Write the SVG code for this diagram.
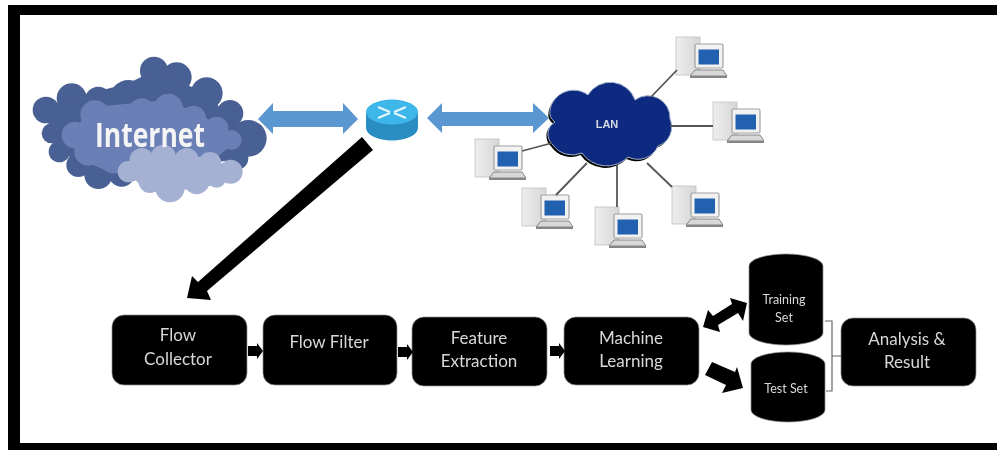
<svg xmlns="http://www.w3.org/2000/svg" xmlns:xlink="http://www.w3.org/1999/xlink" width="997" height="450" viewBox="0 0 997 450">
<style>
.box{fill:#000;stroke:#8a8a8a;stroke-width:.7}
.lbl{font-family:Lato,"Open Sans",sans-serif;font-size:17px;fill:#d8d8d8;text-anchor:middle}
.sm{font-size:12.5px}
.blue{fill:#5a96cf}
.blk{fill:#000}
.wire{stroke:#555;stroke-width:1.8;fill:none}
.brk{stroke:#666;stroke-width:1.2;fill:none}
</style>
<defs>
<filter id="soft" x="-2%" y="-2%" width="104%" height="104%"><feGaussianBlur stdDeviation="0.55"/></filter>
<linearGradient id="tower" x1="0" x2="1" y1="0" y2="0"><stop offset="0" stop-color="#eeeeee"/><stop offset="1" stop-color="#d6d6d6"/></linearGradient>
<g id="pc">
<rect x="0" y="0" width="24" height="38" fill="url(#tower)" stroke="#c0c0c0" stroke-width=".8"/>
<rect x="19" y="7" width="28" height="24" rx="1.5" fill="#f2f2f2" stroke="#a0a0a0" stroke-width="1.2"/>
<rect x="22.500" y="12.500" width="20.500" height="15" fill="#2060b0"/>
<path d="M19 33 L47 33 L51 39 L14 39 Z" fill="#d8d8d8" stroke="#858585" stroke-width="1"/>
<rect x="14" y="39" width="37" height="2" fill="#858585"/>
</g>
</defs>
<rect width="997" height="450" fill="#fff"/>
<g filter="url(#soft)">
<g id="frame" fill="#000">
<rect x="8" y="5" width="989" height="10"/>
<rect x="8" y="5" width="12" height="445"/>
<rect x="8" y="443" width="989" height="7"/>
</g>
<g id="internet">
<g transform="scale(.3333)">
<g fill="#4a6094">
<circle cx="138" cy="330" r="40"/><circle cx="215" cy="295" r="45"/><circle cx="295" cy="300" r="40"/><circle cx="385" cy="295" r="55"/><circle cx="462" cy="212" r="42"/><circle cx="530" cy="232" r="45"/><circle cx="620" cy="280" r="48"/><circle cx="690" cy="340" r="40"/><circle cx="745" cy="415" r="55"/><circle cx="710" cy="475" r="35"/><circle cx="155" cy="400" r="30"/><circle cx="178" cy="455" r="32"/><circle cx="235" cy="495" r="36"/><circle cx="295" cy="525" r="42"/><circle cx="365" cy="520" r="40"/>
<path d="M140 330 L215 295 L385 250 L462 212 L620 280 L745 415 L710 475 L365 550 L230 495 L150 400 Z"/>
</g>
<g fill="#6a7fb5">
<circle cx="225" cy="405" r="40"/><circle cx="285" cy="345" r="44"/><circle cx="350" cy="365" r="32"/><circle cx="425" cy="335" r="40"/><circle cx="505" cy="325" r="44"/><circle cx="580" cy="355" r="38"/><circle cx="650" cy="385" r="35"/><circle cx="695" cy="420" r="30"/><circle cx="265" cy="455" r="42"/><circle cx="340" cy="480" r="40"/>
<path d="M205 405 L285 320 L505 300 L650 370 L715 420 L640 480 L340 520 L240 480 Z"/>
</g>
<g fill="#a5b1d3">
<circle cx="385" cy="515" r="32"/><circle cx="425" cy="480" r="36"/><circle cx="490" cy="472" r="38"/><circle cx="560" cy="480" r="36"/><circle cx="630" cy="490" r="34"/><circle cx="692" cy="515" r="36"/><circle cx="510" cy="563" r="44"/><circle cx="590" cy="545" r="38"/><circle cx="450" cy="545" r="34"/><circle cx="650" cy="535" r="28"/>
<path d="M385 515 L425 470 L630 470 L700 515 L650 555 L510 575 L420 555 Z"/>
</g>
</g>
<text x="150" y="147" font-family="'Open Sans',Lato,sans-serif" font-size="34" font-weight="700" fill="#f4f4f4" text-anchor="middle" textLength="110" lengthAdjust="spacingAndGlyphs">Internet</text>
</g>
<g id="router">
<path d="M366 112 V128 A26 12.5 0 0 0 418 128 V112 Z" fill="#2b8dc2"/>
<ellipse cx="392" cy="112" rx="26" ry="12.5" fill="#3db6ea"/>
<path d="M378 107 L390 112 M406 107 L394 112 M378 118 L390 113 M406 118 L394 113" stroke="#e6f6fc" stroke-width="2.2" fill="none"/>
</g>
<g id="lan">
<path d="M550 110 A24 24 0 0 1 588 95 A26 26 0 0 1 635 100 A22 22 0 0 1 670 119 A20 20 0 0 1 658 146 A22 22 0 0 1 628 157 A30 30 0 0 1 582 153 A24 24 0 0 1 553 145 A14 14 0 0 1 555 122 A12 12 0 0 1 550 110 Z" fill="#000" transform="translate(-1.5,2)"/>
<path d="M550 110 A24 24 0 0 1 588 95 A26 26 0 0 1 635 100 A22 22 0 0 1 670 119 A20 20 0 0 1 658 146 A22 22 0 0 1 628 157 A30 30 0 0 1 582 153 A24 24 0 0 1 553 145 A14 14 0 0 1 555 122 A12 12 0 0 1 550 110 Z" fill="#0f2a80" stroke="#9fb0cc" stroke-width="1"/>
<text x="607" y="128" font-family="'Liberation Sans',sans-serif" font-size="11" font-weight="700" fill="#d5d9e6" text-anchor="middle">LAN</text>
</g>
<g id="pc1"><use xlink:href="#pc" href="#pc" x="676" y="37"/></g>
<g id="pc2"><use xlink:href="#pc" href="#pc" x="713" y="102"/></g>
<g id="pc3"><use xlink:href="#pc" href="#pc" x="475" y="139"/></g>
<g id="pc4"><use xlink:href="#pc" href="#pc" x="522" y="188"/></g>
<g id="pc5"><use xlink:href="#pc" href="#pc" x="595" y="207"/></g>
<g id="pc6"><use xlink:href="#pc" href="#pc" x="672" y="186"/></g>
<g id="flow-collector"><rect class="box" x="112" y="315" width="135" height="70" rx="12"/><text class="lbl" x="178" y="341">Flow</text><text class="lbl" x="178" y="365">Collector</text></g>
<g id="flow-filter"><rect class="box" x="263" y="315" width="134" height="70" rx="12"/><text class="lbl" x="329" y="348">Flow Filter</text></g>
<g id="feature-extraction"><rect class="box" x="412" y="317" width="135" height="69" rx="12"/><text class="lbl" x="479" y="344">Feature</text><text class="lbl" x="479" y="367">Extraction</text></g>
<g id="machine-learning"><rect class="box" x="564" y="317" width="135" height="68" rx="12"/><text class="lbl" x="631" y="344">Machine</text><text class="lbl" x="631" y="367">Learning</text></g>
<g id="training-set"><path class="box" d="M749 266 A37 12 0 0 1 823 266 V333 A37 12 0 0 1 749 333 Z"/><text class="lbl sm" x="784" y="304">Training</text><text class="lbl sm" x="784" y="322">Set</text></g>
<g id="test-set"><path class="box" d="M751 364 A37 12 0 0 1 825 364 V410 A37 12 0 0 1 751 410 Z"/><text class="lbl sm" x="786" y="393">Test Set</text></g>
<g id="analysis-result"><rect class="box" x="841" y="318" width="135" height="68" rx="12"/><text class="lbl" x="907" y="345">Analysis &amp;</text><text class="lbl" x="907" y="368">Result</text></g>
<g id="connectors">
<polygon class="blue" points="258,119 273,103 273,111 343,111 343,103 358,119 343,134 343,127 273,127 273,134"/>
<polygon class="blue" points="427,118 442,103 442,112 533,112 533,103 549,118 533,133 533,126 442,126 442,133"/>
<polygon class="blk" points="362,137 373,150 207,291 211,300 187,298 192,276 198,282"/>
<polygon class="blk" points="248,346 257,346 257,343 263,351 257,359 257,356 248,356"/>
<polygon class="blk" points="398,347 407,347 407,344 413,352 407,360 407,357 398,357"/>
<polygon class="blk" points="550,346 559,346 559,343 565,351 559,359 559,356 550,356"/>
<polygon class="blk" points="703,327 708,310 713,316 732,304 730,298 747,303 743,321 738,313 718,325 720,332"/>
<polygon class="blk" points="712,362 735,372 737,367 743,388 722,393 726,385 705,375"/>
<path class="brk" d="M825 321 H832 V391 H826 M832 356 H841"/>
<path class="wire" d="M651 97 L677 70 M670 126 H713 M522 151 L552 143 M556 195 L587 163 M617 165 V207 M647 163 L672 187"/>
</g>
</g>
</svg>
